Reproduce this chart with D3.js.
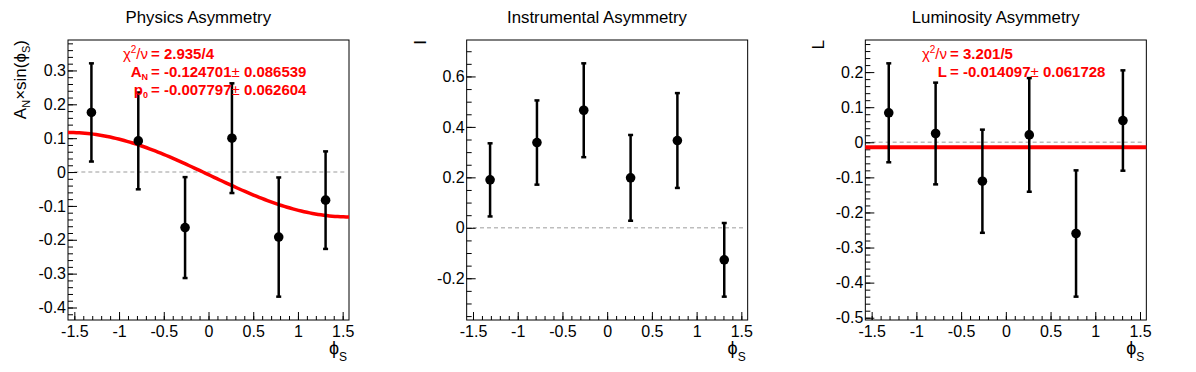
<!DOCTYPE html>
<html><head><meta charset="utf-8">
<script src="https://cdn.jsdelivr.net/npm/d3@7"></script>
<style>
body{margin:0;background:#fff}
text{font-family:"Liberation Sans",Arial,Helvetica,sans-serif}
</style>
</head><body>
<svg id="c" width="1196" height="372"></svg>
<script>
// ---- data ----
const binCenters = [-1.309, -0.785, -0.262, 0.262, 0.785, 1.309];
const titles = ["Physics Asymmetry", "Instrumental Asymmetry", "Luminosity Asymmetry"];
const xTicks = [-1.5, -1, -0.5, 0, 0.5, 1, 1.5];

const physicsVals = [0.176, 0.092, -0.164, 0.100, -0.192, -0.083];
const physicsErrs = [0.145, 0.143, 0.149, 0.162, 0.176, 0.144];
const physicsTicks = [-0.4, -0.3, -0.2, -0.1, 0, 0.1, 0.2, 0.3];

const instrVals = [0.190, 0.338, 0.466, 0.198, 0.346, -0.127];
const instrErrs = [0.145, 0.167, 0.186, 0.170, 0.188, 0.146];
const instrTicks = [-0.2, 0, 0.2, 0.4, 0.6];

const lumiVals = [0.084, 0.025, -0.111, 0.021, -0.260, 0.062];
const lumiErrs = [0.141, 0.145, 0.147, 0.162, 0.180, 0.143];
const lumiTicks = [-0.5, -0.4, -0.3, -0.2, -0.1, 0, 0.1, 0.2];

// fit parameters
const physFitAN = -0.124701, physFitANerr = 0.086539;
const physFitP0 = -0.007797, physFitP0err = 0.062604;
const physChi2 = "2.935/4";
const lumiFitL = -0.014097, lumiFitLerr = 0.061728;
const lumiChi2 = "3.201/5";

// ---- layout ----
const svg = d3.select("#c");
const padW = 1196 / 3;
const frameL = 68, frameW = 281, frameT = 40, frameB = 320;
const xDomain = [-Math.PI / 2, Math.PI / 2];
const fmt = d => String(+d.toFixed(2));

const panels = [
  {vals: physicsVals, errs: physicsErrs, ticks: physicsTicks, minor: 0.02, ytitle: "phys"},
  {vals: instrVals, errs: instrErrs, ticks: instrTicks, minor: 0.05, ytitle: "I"},
  {vals: lumiVals, errs: lumiErrs, ticks: lumiTicks, minor: 0.02, ytitle: "L"}
];

panels.forEach((p, i) => {
  const ox = i * padW;
  const g = svg.append("g").attr("transform", `translate(${ox},0)`);
  const x = d3.scaleLinear().domain(xDomain).range([frameL, frameL + frameW]);
  const lo = d3.min(p.vals.map((v, k) => v - p.errs[k]));
  const hi = d3.max(p.vals.map((v, k) => v + p.errs[k]));
  const dy = hi - lo;
  const y = d3.scaleLinear().domain([lo - 0.1 * dy, hi + 0.1 * dy]).range([frameB, frameT]);

  // title
  g.append("text").attr("x", padW / 2 - 1).attr("y", 22.5)
    .attr("text-anchor", "middle").attr("font-size", 16.8).attr("fill", "#000")
    .text(titles[i]);

  // zero dashed line
  g.append("line").attr("x1", x(-1.5)).attr("x2", x(1.55))
    .attr("y1", y(0)).attr("y2", y(0))
    .attr("stroke", "#bdbdbd").attr("stroke-width", 1.5).attr("stroke-dasharray", "4,3");

  // x axis major / minor
  const xMinor = d3.range(-15, 16).map(k => k / 10).filter(v => v >= xDomain[0] && v <= xDomain[1]);
  const xa = g.append("g").attr("transform", `translate(0,${frameB})`)
    .call(d3.axisBottom(x).tickValues(xMinor).tickSize(-4).tickFormat(""));
  xa.select(".domain").remove();
  const xb = g.append("g").attr("transform", `translate(0,${frameB})`)
    .call(d3.axisBottom(x).tickValues(xTicks).tickSize(-8).tickPadding(5.5).tickFormat(fmt));
  xb.select(".domain").remove();
  xb.selectAll("text").attr("font-size", 16).attr("font-family", "Liberation Sans, Arial, sans-serif").attr("fill", "#000");

  // y axis major / minor
  const yd = y.domain();
  const yMinor = d3.range(Math.ceil(yd[0] / p.minor - 1e-6), Math.floor(yd[1] / p.minor + 1e-6) + 1).map(k => k * p.minor);
  const ya = g.append("g").attr("transform", `translate(${frameL},0)`)
    .call(d3.axisLeft(y).tickValues(yMinor).tickSize(-5).tickFormat(""));
  ya.select(".domain").remove();
  const yb = g.append("g").attr("transform", `translate(${frameL},0)`)
    .call(d3.axisLeft(y).tickValues(p.ticks).tickSize(-9).tickPadding(2).tickFormat(fmt));
  yb.select(".domain").remove();
  yb.selectAll("text").attr("font-size", 16).attr("font-family", "Liberation Sans, Arial, sans-serif").attr("fill", "#000");
  g.selectAll(".tick line").attr("stroke", "#000").attr("stroke-width", 1);

  // frame
  g.append("rect").attr("x", frameL).attr("y", frameT).attr("width", frameW).attr("height", frameB - frameT)
    .attr("fill", "none").attr("stroke", "#000").attr("stroke-width", 1);

  // fit curves
  if (i === 0) {
    const xs = d3.range(0, 101).map(k => xDomain[0] + k * (xDomain[1] - xDomain[0]) / 100);
    g.append("path").datum(xs)
      .attr("d", d3.line().x(d => x(d)).y(d => y(physFitP0 + physFitAN * Math.sin(d))))
      .attr("fill", "none").attr("stroke", "#ff0000").attr("stroke-width", 3.5);
  }
  if (i === 2) {
    g.append("line").attr("x1", x(xDomain[0])).attr("x2", x(xDomain[1]))
      .attr("y1", y(lumiFitL)).attr("y2", y(lumiFitL))
      .attr("stroke", "#ff0000").attr("stroke-width", 4);
  }

  // error bars + markers
  const pts = g.append("g");
  p.vals.forEach((v, k) => {
    const cx = x(binCenters[k]);
    pts.append("line").attr("x1", cx).attr("x2", cx).attr("y1", y(v - p.errs[k])).attr("y2", y(v + p.errs[k]))
      .attr("stroke", "#000").attr("stroke-width", 2.5);
    [v - p.errs[k], v + p.errs[k]].forEach(e => {
      pts.append("line").attr("x1", cx - 2.5).attr("x2", cx + 2.5).attr("y1", y(e)).attr("y2", y(e))
        .attr("stroke", "#000").attr("stroke-width", 2.5);
    });
    pts.append("circle").attr("cx", cx).attr("cy", y(v)).attr("r", 4.8).attr("fill", "#000");
  });

  // x title
  const xt = g.append("text").attr("x", frameL + frameW - 2).attr("y", 354)
    .attr("text-anchor", "end").attr("font-size", 18).attr("fill", "#000");
  xt.append("tspan").text("\u03D5");
  xt.append("tspan").attr("dy", 7).attr("font-size", 12).text("S");

  // y title
  const yt = g.append("text").attr("transform", `translate(${i === 0 ? 26 : 27},${frameT}) rotate(-90)`)
    .attr("text-anchor", "end").attr("font-size", 17).attr("fill", "#000");
  if (i === 0) {
    yt.append("tspan").text("A");
    yt.append("tspan").attr("dy", 4).attr("font-size", 11).text("N");
    yt.append("tspan").attr("dy", -4).text("\u00D7sin(\u03D5");
    yt.append("tspan").attr("dy", 4).attr("font-size", 11).text("S");
    yt.append("tspan").attr("dy", -4).text(")");
  } else {
    yt.text(p.ytitle);
  }

  // stats text
  const red = "#ff0000";
  if (i === 0 || i === 2) {
    const ex = i === 0 ? 151 : 950 - ox;
    const f6 = v => v.toFixed(6);
    const lines = i === 0
      ? [{lhs: "chi", rhs: physChi2},
         {lhs: "AN", rhs: f6(physFitAN), err: f6(physFitANerr)},
         {lhs: "p0", rhs: f6(physFitP0), err: f6(physFitP0err)}]
      : [{lhs: "chi", rhs: lumiChi2},
         {lhs: "L", rhs: f6(lumiFitL), err: f6(lumiFitLerr)}];
    lines.forEach((ln, k) => {
      const yy = 58.5 + k * 18;
      const L = g.append("text").attr("x", ex - 3).attr("y", yy).attr("text-anchor", "end")
        .attr("font-size", 15).attr("font-weight", "bold").attr("fill", red);
      if (ln.lhs === "chi") {
        L.append("tspan").attr("font-weight", "normal").text("\u03C7");
        L.append("tspan").attr("font-weight", "normal").attr("font-size", 10).attr("dy", -6).text("2");
        L.append("tspan").attr("font-weight", "normal").attr("dy", 6).text("/\u03BD");
      } else if (ln.lhs === "AN") {
        L.append("tspan").text("A");
        L.append("tspan").attr("font-size", 9).attr("dy", 3).text("N");
      } else if (ln.lhs === "p0") {
        L.append("tspan").text("p");
        L.append("tspan").attr("font-size", 9).attr("dy", 3).text("0");
      } else {
        L.append("tspan").text(ln.lhs);
      }
      const R = g.append("text").attr("x", ex).attr("y", yy).attr("text-anchor", "start")
        .attr("font-size", 15).attr("font-weight", "bold").attr("fill", red);
      R.append("tspan").text("= " + ln.rhs);
      if (ln.err) {
        R.append("tspan").attr("font-weight", "normal").text("\u00B1");
        R.append("tspan").text(" " + ln.err);
      }
    });
  }
});
</script>
</body></html>
